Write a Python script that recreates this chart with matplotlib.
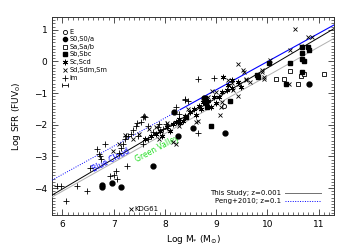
import matplotlib
matplotlib.use("Agg")
import matplotlib.pyplot as plt
import numpy as np

plt.rcParams.update({
    "font.family": "DejaVu Sans",
    "font.size": 6.5,
    "xtick.direction": "in",
    "ytick.direction": "in",
    "xtick.top": True,
    "ytick.right": True,
})

# --- data (log M*, log SFR), per morphological type ---
e_x = [9.16]
e_y = [-1.41]

s0_x = [6.78, 6.78, 6.96, 7.15, 7.76, 10.82, 9.18, 8.54, 8.25, 8.77, 8.80, 8.17]
s0_y = [-3.89, -3.98, -3.83, -3.98, -3.30, -0.73, -2.25, -2.10, -2.37, -1.17, -1.30, -1.60]

sa_x = [10.45, 10.16, 10.32, 10.65, 10.71, 11.10, 10.59]
sa_y = [-0.30, -0.55, -0.55, -0.46, -0.39, -0.39, -0.73]

sb_x = [10.67, 10.80, 10.82, 10.67, 10.45, 10.67, 10.71, 10.67, 10.36, 9.81, 9.79,
        8.91, 9.28, 8.79, 8.42, 8.83, 10.03]
sb_y = [0.44, 0.44, 0.35, 0.26, -0.05, 0.07, 0.01, -0.33, -0.70, -0.49, -0.42,
        -2.03, -1.26, -1.17, -1.76, -1.45, -0.05]

sc_x = [8.40, 8.36, 8.27, 8.21, 8.15, 8.05, 7.91, 7.82, 7.72, 7.62, 8.50, 8.56,
        8.66, 8.75, 8.85, 8.95, 9.05, 9.12, 9.22, 9.32, 9.14, 9.32, 9.42, 9.24,
        9.48, 8.60, 8.70, 8.30, 8.10, 7.95, 9.00, 8.90]
sc_y = [-1.72, -1.88, -1.82, -1.91, -1.97, -2.07, -2.19, -2.28, -2.37, -2.44, -1.60, -1.51,
        -1.41, -1.29, -1.26, -1.14, -1.11, -0.98, -0.89, -0.83, -0.49, -0.58, -0.64, -0.74,
        -0.80, -1.70, -1.50, -1.95, -2.20, -2.35, -1.30, -1.45]

sd_x = [10.55, 9.42, 9.07, 10.88, 7.33, 10.45, 10.06, 9.93, 9.59, 9.53, 9.89, 10.43,
        10.80, 10.65, 9.24, 8.93, 8.99, 8.79, 9.12, 9.34, 9.42, 9.09, 8.85, 8.15,
        8.21, 8.60, 8.64, 7.88, 7.23, 7.37, 7.82, 7.93, 8.27, 9.55, 9.59, 9.89,
        9.93, 9.66, 9.31, 9.45, 6.98, 7.10, 8.45, 8.05, 7.70, 7.50]
sd_y = [1.03, -0.08, -1.69, 0.78, -4.67, 0.35, 0.04, -0.49, -0.58, -0.27, -0.27, -0.73,
        0.78, 0.50, -0.58, -0.95, -0.98, -1.29, -1.29, -0.89, -1.10, -1.45, -1.14, -2.53,
        -2.62, -1.91, -1.88, -2.44, -2.34, -2.44, -2.07, -2.19, -2.03, -0.33, -0.55, -0.33,
        -0.55, -0.64, -0.67, -0.70, -2.84, -2.60, -1.50, -1.95, -2.15, -2.30]

im_x = [5.90, 5.98, 6.08, 6.29, 6.49, 6.53, 6.68, 6.72, 6.74, 6.76, 6.84, 7.04,
        7.00, 7.07, 6.92, 7.27, 7.19, 7.23, 7.25, 7.33, 7.37, 7.43, 7.48, 7.58,
        7.68, 7.76, 7.86, 7.97, 8.07, 7.58, 7.60, 7.46, 8.95, 8.40, 8.46, 7.54,
        7.29, 7.68, 7.62, 7.88, 8.02, 8.64, 8.27, 8.21, 8.40, 8.64, 7.10, 7.15]
im_y = [-3.92, -3.92, -4.42, -3.95, -4.08, -3.37, -2.78, -2.93, -3.00, -3.09, -2.62, -3.46,
        -3.58, -3.71, -3.61, -3.30, -2.62, -2.44, -2.37, -2.28, -2.16, -2.03, -2.37, -2.62,
        -2.44, -2.22, -2.07, -2.13, -2.03, -1.76, -1.73, -1.94, -0.52, -1.20, -1.26, -1.91,
        -2.37, -2.03, -1.76, -1.97, -1.97, -2.25, -1.66, -1.45, -1.23, -0.55, -2.90, -2.75]

# relations: slope, intercept
fit_this = (0.955, -9.76)
fit_peng = (0.89, -8.91)
fit_gv = (0.91, -9.56)

fig = plt.figure(figsize=(3.5, 2.5), dpi=100)
ax = fig.add_axes([0.149, 0.14, 0.805, 0.792])

xx = np.linspace(5.8, 11.3, 100)
ax.plot(xx, fit_this[0] * xx + fit_this[1], color="black", lw=0.7, zorder=3)
ax.plot(xx, fit_gv[0] * xx + fit_gv[1], color="#b0b0b0", lw=0.7, zorder=3)
lo = xx[xx <= 8.3]
hi = xx[xx >= 8.3]
ax.plot(lo, fit_peng[0] * lo + fit_peng[1], color="blue", lw=0.7, ls=(0, (1, 1.5)), zorder=3)
ax.plot(hi, fit_peng[0] * hi + fit_peng[1], color="blue", lw=0.8, zorder=3)

ms = 3
mew = 0.6
ast = (6, 2, 0)
ax.plot(e_x, e_y, "o", mfc="white", mec="black", ms=ms, mew=mew, ls="none", zorder=4)
ax.plot(s0_x, s0_y, "o", color="black", ms=ms + 0.5, ls="none", zorder=4)
ax.plot(sa_x, sa_y, "s", mfc="white", mec="black", ms=ms, mew=mew, ls="none", zorder=4)
ax.plot(sb_x, sb_y, "s", color="black", ms=ms, ls="none", zorder=4)
ax.plot(sc_x, sc_y, marker=ast, color="black", ms=ms + 1, mew=mew, ls="none", zorder=4)
ax.plot(sd_x, sd_y, "x", color="black", ms=ms, mew=mew, ls="none", zorder=4)
ax.plot(im_x, im_y, "+", color="black", ms=ms + 1, mew=mew, ls="none", zorder=4)

ax.text(7.33 + 0.08, -4.67, "KDG61", fontsize=5, va="center", ha="left")
ax.text(6.94, -3.12, "Blue Cloud", color="blue", fontsize=5.5, rotation=28,
        ha="center", va="center")
ax.text(7.85, -2.75, "Green Valley", color="#22dd22", fontsize=5.5, rotation=28,
        ha="center", va="center")

# type legend (top left)
types = ["E", "S0,S0/a", "Sa,Sa/b", "Sb,Sbc", "Sc,Scd", "Sd,Sdm,Sm", "Im"]
styles = [dict(marker="o", mfc="white", mec="black", mew=mew, ms=ms),
          dict(marker="o", color="black", ms=ms),
          dict(marker="s", mfc="white", mec="black", mew=mew, ms=ms),
          dict(marker="s", color="black", ms=ms),
          dict(marker=ast, color="black", mew=mew, ms=ms + 1),
          dict(marker="x", color="black", mew=mew, ms=ms),
          dict(marker="+", color="black", mew=mew, ms=ms + 1)]
rows = [0.926, 0.888, 0.850, 0.812, 0.774, 0.734, 0.692]
for lab, st, yy in zip(types, styles, rows):
    ax.plot([0.046], [yy], ls="none", transform=ax.transAxes, **st)
    ax.text(0.062, yy, lab, transform=ax.transAxes, fontsize=4.8, va="center", ha="left")
ax.errorbar([0.046], [0.655], xerr=[0.012], fmt="none", ecolor="black", elinewidth=0.6,
            capsize=1.2, capthick=0.6, transform=ax.transAxes)

# line legend (bottom right)
ax.text(0.812, 0.111, "This Study; z=0.001", transform=ax.transAxes, fontsize=5,
        ha="right", va="center")
ax.text(0.812, 0.071, "Peng+2010; z=0.1", transform=ax.transAxes, fontsize=5,
        ha="right", va="center")
ax.plot([0.826, 0.954], [0.111, 0.111], color="#707070", lw=0.7, transform=ax.transAxes)
ax.plot([0.826, 0.954], [0.071, 0.071], color="blue", lw=0.7, ls=(0, (1, 1.5)),
        transform=ax.transAxes)

ax.set_xlim(5.8, 11.3)
ax.set_ylim(-4.85, 1.4)
ax.set_xticks([6, 7, 8, 9, 10, 11])
ax.set_yticks([-4, -3, -2, -1, 0, 1])
ax.set_yticklabels(["\u22124", "\u22123", "\u22122", "\u22121", "0", "1"])
ax.xaxis.set_minor_locator(matplotlib.ticker.MultipleLocator(0.1))
ax.yaxis.set_minor_locator(matplotlib.ticker.MultipleLocator(0.1))
ax.tick_params(which="major", length=4, width=0.6, labelsize=6.5, colors="#333333",
               labelcolor="black")
ax.tick_params(which="minor", length=2, width=0.5, colors="#333333")
for sp in ax.spines.values():
    sp.set_linewidth(0.7)
    sp.set_color("#333333")

ax.set_xlabel(r"Log M$_{*}$ (M$_{\odot}$)", fontsize=6.5, labelpad=3)
ax.set_ylabel(r"Log SFR (FUV$_0$)", fontsize=6.5, labelpad=8)

fig.savefig("out.png", dpi=100)
